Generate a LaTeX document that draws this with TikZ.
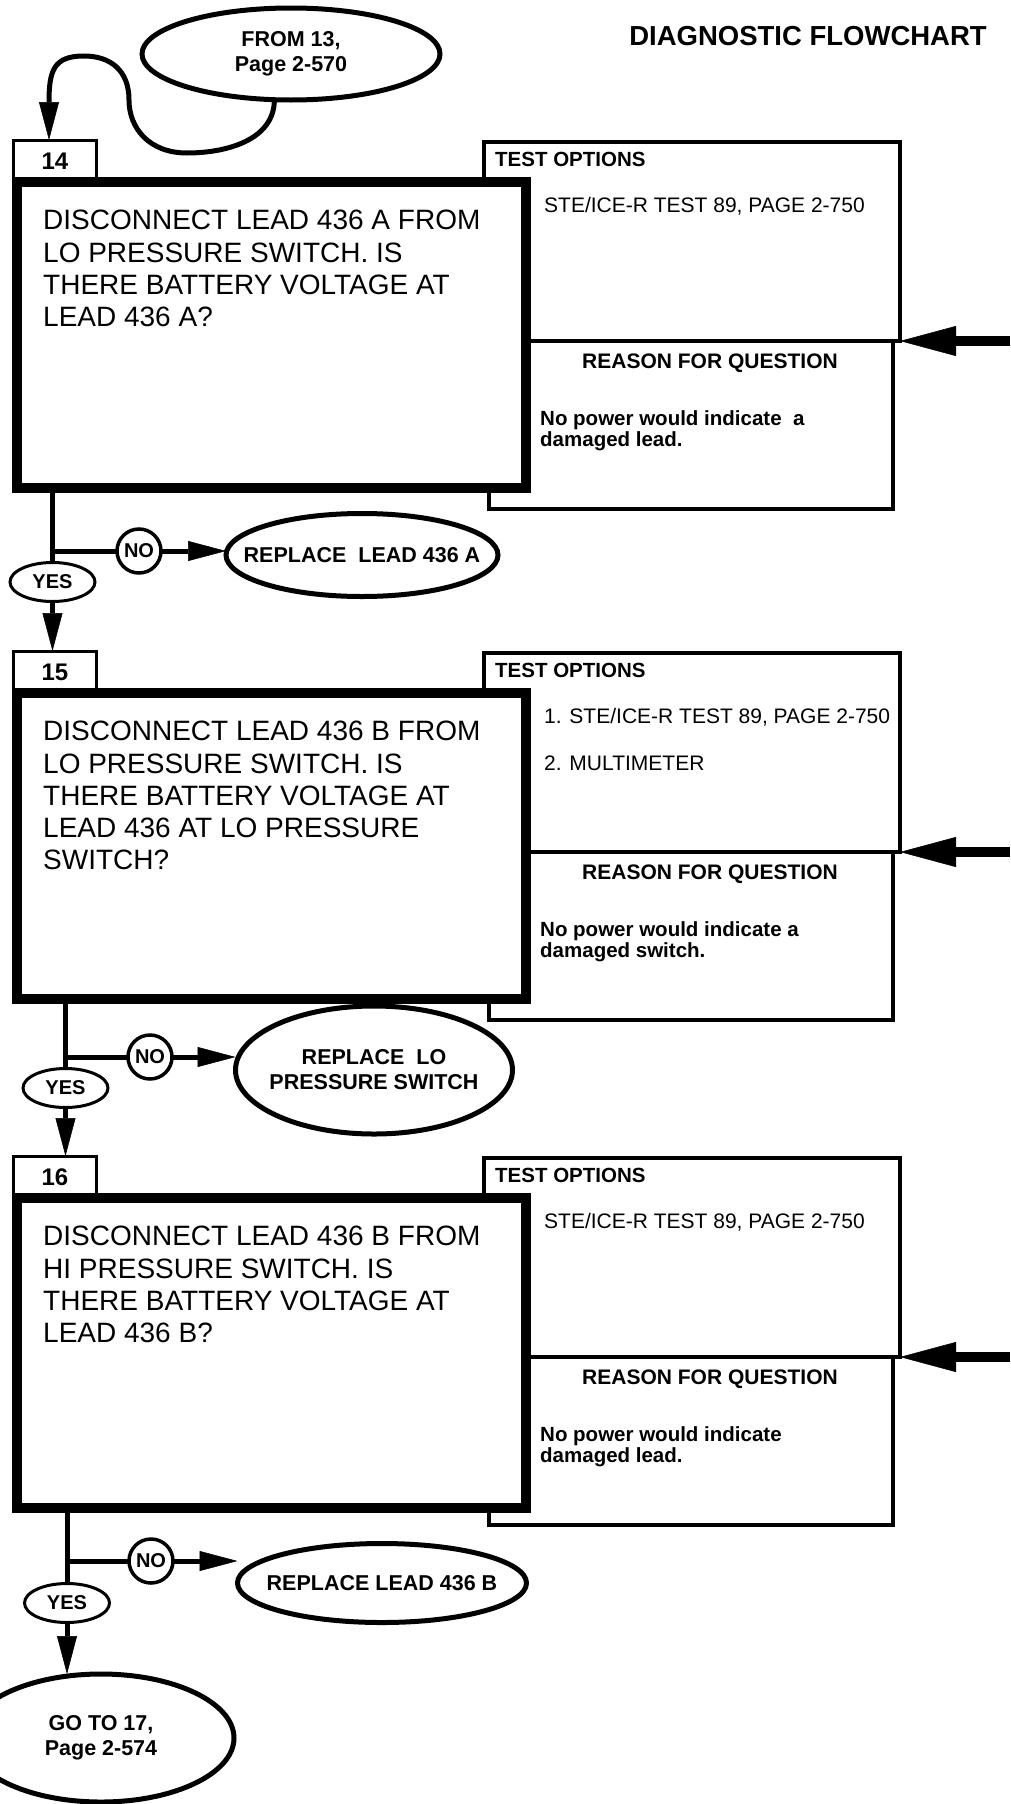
\documentclass[tikz,border=0pt]{standalone}
\usepackage{fontspec}
\setmainfont{Liberation Sans}
\usetikzlibrary{arrows.meta, positioning, shapes.geometric}
\tikzset{
  qbox/.style={rectangle, draw, fill=white, line width=10pt, anchor=north west,
    minimum width=509pt, minimum height=306pt, inner sep=0pt, outer sep=0pt},
  numtab/.style={rectangle, draw, fill=white, line width=3pt, anchor=south west,
    minimum width=83pt, minimum height=42pt, inner sep=0pt, outer sep=0pt,
    font=\bfseries\fontsize{24}{24}\selectfont},
  optbox/.style={rectangle, draw, line width=4pt, anchor=north west,
    minimum width=416pt, minimum height=199pt, inner sep=0pt, outer sep=0pt},
  rsnbox/.style={rectangle, draw, line width=4pt, anchor=north west,
    minimum width=404pt, minimum height=168pt, inner sep=0pt, outer sep=0pt},
  qtext/.style={anchor=north west, align=left, inner sep=0pt,
    font=\fontsize{28}{32.3}\selectfont},
  hdrtext/.style={anchor=base west, inner sep=0pt,
    font=\bfseries\fontsize{20.5}{22}\selectfont},
  opttext/.style={anchor=base west, inner sep=0pt,
    font=\fontsize{21}{23}\selectfont},
  rsnhdr/.style={anchor=base, inner sep=0pt,
    font=\bfseries\fontsize{21}{22}\selectfont},
  rsntext/.style={anchor=north west, align=left, inner sep=0pt,
    font=\bfseries\fontsize{20.5}{21}\selectfont},
  endcap/.style={ellipse, draw, fill=white, line width=5pt, align=center,
    inner xsep=-30pt, inner ysep=-10pt, outer sep=0pt,
    font=\bfseries\fontsize{21.5}{25}\selectfont},
  yesnode/.style={ellipse, draw, fill=white, line width=3pt, minimum width=85pt,
    minimum height=39pt, inner sep=0pt, outer sep=0pt,
    font=\bfseries\fontsize{20}{20}\selectfont},
  nonode/.style={circle, draw, fill=white, line width=3.5pt, minimum size=44pt,
    inner sep=0pt, outer sep=0pt, font=\bfseries\fontsize{20}{20}\selectfont},
  flow/.style={line width=5pt},
  flowarrow/.style={line width=5pt, -{Triangle[length=38pt, width=20pt, line width=0.5pt]}},
  feedarrow/.style={line width=10pt, -{Triangle[length=56pt, width=30pt, line width=0.5pt]}}
}

\begin{document}
\begin{tikzpicture}[x=1pt, y=-1pt]
  \useasboundingbox (0,0) rectangle (1010,1804);
  \coordinate (rim) at (1010,0);
  \node[font=\bfseries\fontsize{27.5}{28}\selectfont] (title) at (808,36) {DIAGNOSTIC FLOWCHART};

  % Entry from step 13
  \node[endcap, minimum width=298pt, minimum height=92pt] (from13) at (291,54) {FROM 13,\\Page 2-570};

  % Step 14
  \node[optbox] (opt14) at (484,142) {};
  \node[rsnbox] (rsn14) at ([xshift=5pt]opt14.south west) {};
  \node[numtab] (tab14) at (13.5,182) {14};
  \node[qbox] (q14) at (17,182) {};
  \node[qtext] (q14txt) at ([xshift=26pt, yshift=-28pt]q14.north west)
    {DISCONNECT LEAD 436 A FROM\\LO PRESSURE SWITCH. IS\\THERE BATTERY VOLTAGE AT\\LEAD 436 A?};
  \node[hdrtext] (opt14h) at ([xshift=11pt, yshift=-24pt]opt14.north west) {TEST OPTIONS};
  \node[opttext] (opt14a) at ([xshift=60pt, yshift=-70pt]opt14.north west) {STE/ICE-R TEST 89, PAGE 2-750};
  \node[rsnhdr] (rsn14h) at ([xshift=221pt, yshift=-27pt]rsn14.north west) {REASON FOR QUESTION};
  \node[rsntext] (rsn14a) at ([xshift=51pt, yshift=-69pt]rsn14.north west) {No power would indicate\ \ a\\damaged lead.};
  \draw[feedarrow] (opt14.south east -| rim) -- (opt14.south east);

  \coordinate (loopbot) at (187,153);
  \coordinate (loopside) at (129,100);
  \coordinate (looptop) at (84,56);
  \draw[flowarrow] (from13.-110) .. controls +(0,40) and +(40,0) .. (loopbot)
    .. controls +(-38,0) and +(0,28) .. (loopside)
    .. controls +(0,-30) and +(26,0) .. (looptop)
    .. controls +(-30,0) and +(0,-70) .. ([xshift=-6pt]tab14.north);

  \node[yesnode] (yes14) at (52.5,582) {YES};
  \node[nonode] (no14) at (139,551) {NO};
  \node[endcap, minimum width=272pt, minimum height=83pt] (rep14) at (362,555) {REPLACE\ \ LEAD 436 A};
  \draw[flow] (yes14.north |- q14.south) -- (yes14.north);
  \draw[flow] (yes14.north |- no14) -- (no14.west);
  \draw[flowarrow] (no14.east) -- (no14.east -| rep14.west);

  % Step 15
  \node[optbox] (opt15) at (484,653) {};
  \node[rsnbox] (rsn15) at ([xshift=5pt]opt15.south west) {};
  \node[numtab] (tab15) at (13.5,693) {15};
  \node[qbox] (q15) at (17,693) {};
  \node[qtext] (q15txt) at ([xshift=26pt, yshift=-28pt]q15.north west)
    {DISCONNECT LEAD 436 B FROM\\LO PRESSURE SWITCH. IS\\THERE BATTERY VOLTAGE AT\\LEAD 436 AT LO PRESSURE\\SWITCH?};
  \node[hdrtext] (opt15h) at ([xshift=11pt, yshift=-24pt]opt15.north west) {TEST OPTIONS};
  \node[opttext] (opt15a) at ([xshift=60pt, yshift=-70pt]opt15.north west) {1. STE/ICE-R TEST 89, PAGE 2-750};
  \node[opttext] (opt15b) at ([xshift=60pt, yshift=-117pt]opt15.north west) {2. MULTIMETER};
  \node[rsnhdr] (rsn15h) at ([xshift=221pt, yshift=-27pt]rsn15.north west) {REASON FOR QUESTION};
  \node[rsntext] (rsn15a) at ([xshift=51pt, yshift=-69pt]rsn15.north west) {No power would indicate a\\damaged switch.};
  \draw[feedarrow] (opt15.south east -| rim) -- (opt15.south east);
  \draw[flowarrow] (yes14.south) -- (yes14.south |- tab15.north);

  \node[yesnode] (yes15) at (65.5,1088) {YES};
  \node[nonode] (no15) at (150,1057) {NO};
  \node[endcap, minimum width=277pt, minimum height=128pt] (rep15) at (374,1070) {REPLACE\ \ LO\\PRESSURE SWITCH};
  \draw[flow] (yes15.north |- q15.south) -- (yes15.north);
  \draw[flow] (yes15.north |- no15) -- (no15.west);
  \draw[flowarrow] (no15.east) -- (no15.east -| rep15.west);

  % Step 16
  \node[optbox] (opt16) at (484,1158) {};
  \node[rsnbox] (rsn16) at ([xshift=5pt]opt16.south west) {};
  \node[numtab] (tab16) at (13.5,1198) {16};
  \node[qbox, minimum height=310pt] (q16) at (17,1198) {};
  \node[qtext] (q16txt) at ([xshift=26pt, yshift=-28pt]q16.north west)
    {DISCONNECT LEAD 436 B FROM\\HI PRESSURE SWITCH. IS\\THERE BATTERY VOLTAGE AT\\LEAD 436 B?};
  \node[hdrtext] (opt16h) at ([xshift=11pt, yshift=-24pt]opt16.north west) {TEST OPTIONS};
  \node[opttext] (opt16a) at ([xshift=60pt, yshift=-70pt]opt16.north west) {STE/ICE-R TEST 89, PAGE 2-750};
  \node[rsnhdr] (rsn16h) at ([xshift=221pt, yshift=-27pt]rsn16.north west) {REASON FOR QUESTION};
  \node[rsntext] (rsn16a) at ([xshift=51pt, yshift=-69pt]rsn16.north west) {No power would indicate\\damaged lead.};
  \draw[feedarrow] (opt16.south east -| rim) -- (opt16.south east);
  \draw[flowarrow] (yes15.south) -- (yes15.south |- tab16.north);

  \node[yesnode] (yes16) at (67,1603) {YES};
  \node[nonode] (no16) at (151,1561) {NO};
  \node[endcap, minimum width=289pt, minimum height=79pt] (rep16) at (382,1583) {REPLACE LEAD 436 B};
  \node[endcap, minimum width=266pt, minimum height=128pt] (go17) at (101,1738) {GO TO 17,\\Page 2-574};
  \draw[flow] (yes16.north |- q16.south) -- (yes16.north);
  \draw[flow] (yes16.north |- no16) -- (no16.west);
  \draw[flowarrow] (no16.east) -- (no16.east -| rep16.west);
  \draw[flowarrow] (yes16.south) -- (yes16.south |- go17.north);
\end{tikzpicture}
\end{document}
